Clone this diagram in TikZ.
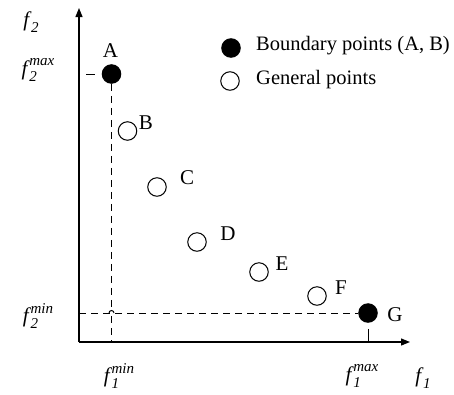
\documentclass[tikz,border=0pt]{standalone}
\usepackage{fontspec}
\setmainfont{Liberation Serif}
\usetikzlibrary{arrows.meta,calc}
\newcommand\fsym[2]{\textit{f}\kern-0.5pt\rlap{\raisebox{-0.3em}{\fontsize{15}{15}\selectfont\textit{#1}}}\raisebox{0.45em}{\fontsize{15}{15}\selectfont\textit{#2}}}
\newcommand\fsub[1]{\textit{f}\kern-0.5pt\raisebox{-0.3em}{\fontsize{15}{15}\selectfont\textit{#1}}}
\begin{document}
\begin{tikzpicture}[x=1pt,y=-1pt,
  pt/.style={circle,draw,line width=1pt,minimum size=18.5pt,inner sep=0pt},
  bpt/.style={pt,fill=black},
  gpt/.style={pt,fill=white},
  lbl/.style={font=\fontsize{21}{24}\selectfont,inner sep=0pt},
  leg/.style={font=\fontsize{20.5}{24}\selectfont,inner sep=0pt},
  axis/.style={line width=1.2pt,-{Triangle[length=9pt,width=7pt]}},
  guide/.style={line width=1pt,dash pattern=on 7pt off 5pt}]
\useasboundingbox (0,0) rectangle (454,394);
% axes
\coordinate (O) at (79,342);
\coordinate (ytop) at (79,8);
\coordinate (xend) at (410,342);
\draw[axis] (O) -- (ytop);
\draw[axis] (O) -- (xend);
% points
\node[bpt] (A) at (111.5,74) {};
\node[gpt] (B) at (127.5,131) {};
\node[gpt] (C) at (157,187) {};
\node[gpt] (D) at (197,242) {};
\node[gpt] (E) at (259,272) {};
\node[gpt] (F) at (317,296) {};
\node[bpt] (G) at (368,313) {};
% labels
\node[lbl] (lA) at (110.5,51) {A};
\node[lbl] (lB) at (146,123) {B};
\node[lbl] (lC) at (187,178) {C};
\node[lbl] (lD) at (228,234) {D};
\node[lbl] (lE) at (282,264) {E};
\node[lbl] (lF) at (341,288) {F};
\node[lbl] (lG) at (395,315) {G};
% guide lines
\coordinate (Ax) at (111.5,342);
\coordinate (yA) at (79,74);
\coordinate (yG) at (79,313);
\coordinate (Gx) at (368,342);
\coordinate (hop) at (111.5,313);
\draw[guide] (A.south) -- ($(hop)+(0,-3)$);
\draw[guide] ($(hop)+(0,3)$) -- (Ax);
\draw[line width=1pt] ($(hop)+(-2.5,0)$) arc[start angle=180,end angle=360,radius=2.5];
\draw[guide] (yG) -- (G.west);
\draw[line width=1pt,dash pattern=on 9pt off 7pt,dash phase=9pt] (yA) -- (A.west);
\draw[line width=1pt,dash pattern=on 14pt off 6pt,dash phase=14pt] (G.south) -- (Gx);
% axis labels
\node[lbl] (f2) at (31,22) {\fsub{2}};
\node[lbl] (f2max) at (38,70) {\fsym{2}{max}};
\node[lbl] (f2min) at (38,316) {\fsym{2}{min}};
\node[lbl] (f1min) at (119,376) {\fsym{1}{min}};
\node[lbl] (f1max) at (362,376) {\fsym{1}{max}};
\node[lbl] (f1) at (423,378) {\fsub{1}};
% legend
\node[bpt] (legB) at (231,48) {};
\node[gpt] (legG) at (230,81) {};
\node[leg,anchor=west] (legBt) at (256,46) {Boundary points (A, B)};
\node[leg,anchor=west] (legGt) at (256,80) {General points};
\end{tikzpicture}
\end{document}
